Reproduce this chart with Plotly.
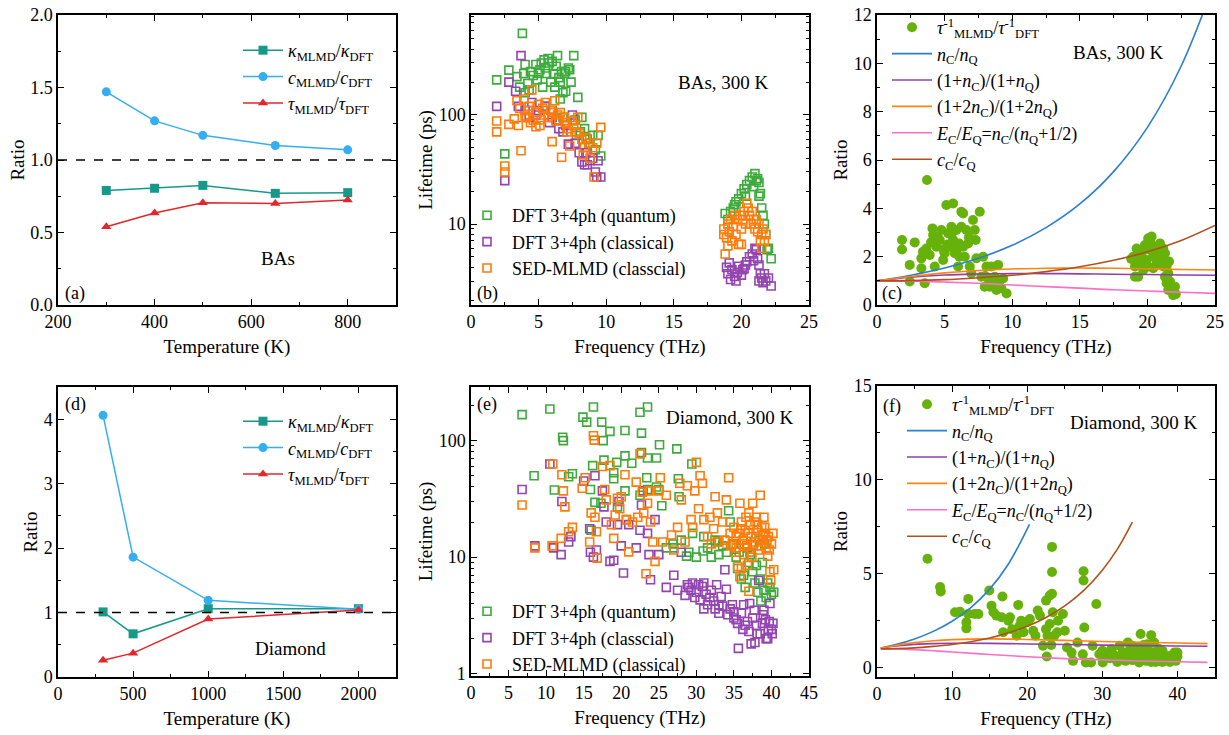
import plotly.graph_objects as go

FONT = "Liberation Serif"
W, H = 1229, 735

# ---------------- data ----------------
# (a) BAs ratios vs temperature
a_T = [300, 400, 500, 650, 800]
a_kappa = [0.79, 0.805, 0.825, 0.77, 0.775]
a_c = [1.47, 1.27, 1.17, 1.10, 1.07]
a_tau = [0.54, 0.635, 0.705, 0.70, 0.725]

# (d) Diamond ratios vs temperature
d_T = [300, 500, 1000, 2000]
d_kappa = [1.01, 0.67, 1.06, 1.06]
d_c = [4.06, 1.86, 1.19, 1.05]
d_tau = [0.26, 0.37, 0.90, 1.04]

# (b) BAs lifetimes (THz, ps)
bq_f = [1.9, 2.5, 2.8, 3.4, 3.6, 3.8, 3.9, 4.0, 4.0, 4.2, 4.3, 4.4, 4.6, 4.8, 4.9, 5.0, 5.1, 5.2, 5.3, 5.4,
        5.5, 5.5, 5.6, 5.7, 5.8, 5.9, 6.0, 6.0, 6.1, 6.2, 6.3, 6.4, 6.5, 6.6, 6.6, 6.7, 6.8, 6.8, 6.9, 7.0,
        7.0, 7.2, 7.3, 7.4, 7.6, 7.7, 7.8, 7.9, 8.1, 8.2, 8.4, 8.6, 8.8, 9.0, 9.2, 9.4, 9.6,
        18.8, 19.0, 19.2, 19.4, 19.5, 19.8, 20.0, 20.2, 20.3, 20.4, 20.6, 20.8, 21.0, 21.1, 21.2, 21.3, 21.3,
        21.4, 21.5, 21.6, 21.7, 21.8, 21.9, 22.0, 22.2, 19.6, 20.9]
bq_t = [210, 44, 258, 225, 180, 560, 240, 290, 160, 195, 170, 250, 230, 290, 210, 240, 260, 300, 180, 320,
        270, 120, 240, 330, 300, 200, 310, 110, 240, 180, 280, 350, 220, 200, 140, 250, 160, 95, 240, 250,
        165, 270, 260, 200, 350, 90, 65, 145, 70, 95, 75, 60, 55, 65, 48, 65, 42,
        12.5, 11, 13, 14, 15, 17, 19, 21, 18, 23, 25, 27, 29, 25, 26, 24, 18,
        19, 14, 12, 10, 8, 5.8, 6, 4.8, 16, 22]
bc_f = [1.9, 2.5, 2.8, 3.3, 3.5, 3.7, 4.0, 4.3, 4.5, 4.8, 5.0, 5.5, 5.8, 6.0, 6.3, 6.5, 6.8, 7.0, 7.2, 7.5,
        7.7, 8.0, 8.2, 8.4, 8.5, 8.6, 8.8, 9.0, 9.2, 9.3, 9.4, 9.6,
        18.9, 19.0, 19.1, 19.2, 19.3, 19.5, 19.6, 19.7, 19.8, 20.0, 20.1, 20.2, 20.3, 20.4, 20.6, 20.8, 20.9,
        21.0, 21.1, 21.2, 21.3, 21.3, 21.4, 21.5, 21.6, 21.7, 21.8, 22.0, 22.2]
bc_t = [120, 25, 200, 165, 120, 350, 110, 95, 130, 100, 110, 120, 85, 95, 90, 75, 70, 80, 54, 100,
        55, 45, 37, 35, 45, 35, 38, 40, 30, 27, 38, 27,
        4.0, 3.5, 4.4, 3.1, 3.8, 3.3, 3.0, 3.6, 4.1, 3.4, 3.8, 3.9, 4.2, 4.5, 5.0, 5.3, 4.6,
        6.0, 5.8, 4.8, 4.2, 3.0, 3.5, 3.2, 2.9, 3.5, 3.0, 3.2, 2.7]
bs_f = [1.9, 1.9, 2.5, 2.5, 2.8, 3.2, 3.4, 3.5, 3.6, 3.7, 3.9, 4.0, 4.1, 4.2, 4.3, 4.4, 4.5, 4.6, 4.8, 4.9,
        5.0, 5.1, 5.2, 5.3, 5.4, 5.5, 5.7, 5.9, 6.0, 6.1, 6.2, 6.3, 6.4, 6.5, 6.6, 6.7, 6.9, 7.0, 7.1, 7.2,
        7.3, 7.5, 7.6, 7.8, 7.9, 8.0, 8.2, 8.3, 8.4, 8.5, 8.7, 8.8, 9.0, 9.1, 9.3, 9.6,
        18.7, 18.7, 18.8, 18.9, 19.0, 19.0, 19.1, 19.2, 19.3, 19.4, 19.5, 19.6, 19.7, 19.8, 19.9, 20.0, 20.0,
        20.1, 20.2, 20.3, 20.4, 20.5, 20.6, 20.7, 20.8, 20.9, 21.0, 21.1, 21.2, 21.3, 21.4, 21.5, 21.5, 21.6,
        21.7, 21.8]
bs_t = [88, 70, 34, 30, 82, 92, 135, 80, 115, 47, 140, 98, 95, 110, 120, 85, 170, 90, 78, 105,
        125, 80, 90, 115, 100, 130, 95, 110, 57, 105, 135, 88, 100, 90, 105, 41, 95, 85, 70, 75,
        52, 88, 80, 70, 95, 68, 60, 43, 50, 62, 55, 40, 50, 27, 55, 77,
        9, 8, 5.3, 7.5, 10, 6.3, 8.5, 11, 7, 9.5, 12, 8, 11, 6.5, 12, 9, 6.5,
        11, 13, 10, 15.5, 14, 12, 10, 13, 11, 9, 11, 8.5, 10, 7, 6, 8, 9,
        7, 8]

# (c) BAs lifetime ratio dots and reference curves
c_f = [1.85, 1.85, 2.42, 2.42, 2.79, 3.28, 3.28, 3.53, 3.65, 3.70, 3.9, 4.1, 4.15, 4.27, 4.39, 4.64, 4.76, 4.89,
       5.0, 5.13, 5.26, 5.38, 5.5, 5.63, 5.63, 5.75, 5.87, 6.0, 6.07, 6.24, 6.37, 6.24, 6.37, 6.49, 6.61, 6.74,
       6.86, 6.98, 7.1, 7.23, 7.3, 7.35, 7.6, 7.72, 7.85, 7.97, 8.1, 8.22, 8.34, 8.46, 8.59, 8.71, 8.83, 8.96,
       9.08, 9.2, 9.33, 9.58, 4.5, 5.2, 5.9, 4.0, 3.4, 6.8, 5.5, 4.9, 6.1, 8.0, 8.6, 9.0,
       18.95, 19.08, 19.2, 19.32, 19.45, 19.57, 19.7, 19.82, 19.94, 20.06, 20.19, 20.31, 20.43, 20.55, 20.68,
       20.8, 20.93, 21.05, 21.17, 21.3, 21.3, 21.42, 21.54, 21.67, 21.9, 22.04, 22.1, 19.08, 19.32, 20.06,
       20.43, 21.17, 21.42, 21.54, 18.8, 19.6, 20.2, 20.7, 21.0, 21.6]
c_r = [2.69, 2.30, 1.66, 0.97, 2.59, 1.93, 1.52, 0.90, 2.34, 5.17, 2.07, 3.17, 2.9, 1.59, 2.41, 2.69, 3.1, 1.86,
       2.14, 4.14, 2.97, 2.41, 3.24, 4.2, 2.69, 2.14, 3.1, 1.59, 2.55, 3.86, 3.79, 3.24, 2.41, 2.0, 3.1, 2.55,
       1.59, 1.31, 3.52, 3.1, 2.69, 1.93, 3.86, 1.17, 2.0, 0.76, 1.59, 1.1, 0.76, 1.59, 0.83, 1.17, 0.62, 1.66,
       1.03, 0.69, 1.1, 0.48, 2.8, 2.5, 2.3, 2.6, 2.2, 2.8, 2.9, 2.3, 2.0, 1.2, 1.0, 0.9,
       2.0, 1.59, 2.34, 1.17, 1.72, 2.14, 1.45, 2.48, 1.86, 2.76, 2.28, 2.83, 2.0, 2.41, 1.72,
       2.14, 2.55, 1.93, 1.59, 2.14, 1.17, 0.9, 0.62, 0.97, 0.41, 0.76, 0.45, 1.17, 1.86, 1.59,
       1.52, 2.34, 1.59, 1.31, 1.9, 2.2, 2.6, 2.3, 2.0, 1.8]
c_cf = [0, 2.5, 5, 7.5, 10, 12.5, 15, 17.5, 20, 22.5, 25]
c_nn = [1.0, 1.23, 1.53, 1.93, 2.47, 3.20, 4.18, 5.52, 7.35, 9.89, 13.4]
c_1n = [1.0, 1.15, 1.24, 1.28, 1.30, 1.30, 1.29, 1.27, 1.26, 1.24, 1.23]
c_2n = [1.0, 1.18, 1.33, 1.43, 1.49, 1.52, 1.53, 1.52, 1.50, 1.47, 1.45]
c_E = [1.0, 0.99, 0.95, 0.90, 0.83, 0.76, 0.70, 0.63, 0.58, 0.53, 0.48]
c_cc = [1.0, 1.01, 1.05, 1.13, 1.23, 1.38, 1.58, 1.85, 2.20, 2.67, 3.29]

# (e) Diamond lifetimes
eq_f = [6.8, 10.5, 8.4, 11.1, 12.2, 12.3, 13.5, 13.0, 14.9, 15.4, 16.3, 16.2, 15.9, 16.5, 17.4, 17.7, 17.6, 18.5,
        19.0, 19.0, 19.4, 20.5, 20.5, 20.5, 21.4, 22.5, 22.7, 23.5, 22.7, 23.5, 23.4, 24.7, 25.1, 24.7, 25.4,
        27.4, 27.6, 27.7, 29.4, 22.5, 23.5, 25.0, 16.0, 17.3, 19.5, 20.7,
        26.0, 26.9, 27.0, 28.0, 28.7, 29.0, 29.5, 30.0, 30.9, 31.0, 31.5, 32.0, 32.5, 32.8, 33.0, 33.5, 34.0,
        34.3, 34.5, 35.0, 35.3, 35.5, 35.7, 36.0, 36.3, 36.5, 36.8, 37.0, 37.2, 37.3, 37.5, 37.8, 38.0, 38.2,
        38.4, 38.5, 38.6, 38.8, 39.0, 39.1, 39.3, 39.5, 39.8, 40.0, 40.3]
eq_t = [167, 187, 50, 37.7, 107, 100, 52, 49, 159, 144, 194, 61, 38, 29.5, 144, 68, 100, 120,
        53, 47, 65, 74, 122, 37, 64, 175, 116, 194, 79, 71, 48, 71, 92, 40, 27.6,
        85, 47, 33, 63, 34, 38, 38, 17, 29, 27, 21,
        12, 13, 12, 14, 10.2, 11, 16, 10, 11.3, 15, 12, 10, 14, 13.5, 10.5, 12.5, 11,
        25, 20, 13, 10, 8, 11, 6.5, 7, 5.5, 12, 9, 10.5, 11, 7.5, 6, 8.5, 5,
        14, 6.5, 4.2, 9, 5.2, 13, 4.5, 6, 5.5, 4.8, 5]
ec_f = [6.8, 8.5, 10.5, 11.0, 12.0, 12.1, 13.0, 13.3, 15.0, 15.8, 15.9, 16.3, 16.5, 16.7, 17.5, 17.7, 18.0, 18.5,
        19.0, 19.5, 19.7, 20.0, 20.3, 21.0, 22.0, 22.5, 22.7, 22.9, 23.5, 23.7, 23.9, 24.5, 25.0, 26.0, 27.0,
        27.5, 28.0, 28.5, 29.0, 29.3, 29.5, 30.0, 30.5, 30.8, 31.0, 31.5, 31.8, 32.0, 32.5, 32.7, 33.0, 33.5,
        33.8, 34.0, 34.2, 34.5, 35.0, 35.0, 35.5, 35.6, 36.0, 36.3, 36.5, 37.0, 37.3, 37.5, 37.8, 38.0, 38.3,
        38.5, 38.8, 39.0, 39.3, 39.6, 39.8, 40.0, 40.2,
        28.8, 29.8, 30.3, 31.3, 32.3, 33.3, 34.8, 35.3, 36.8, 37.7, 38.1, 39.2, 39.5, 40.1, 36.2, 33.0, 31.0,
        37.1, 38.9, 39.7]
ec_t = [38, 12.5, 63, 12, 10.5, 30, 13.5, 15, 45, 17.5, 11, 10, 50, 11.5, 37, 27, 20, 9.2,
        9.4, 19, 30, 12.5, 7.3, 19, 12, 17, 28, 37, 16, 10.5, 6.4, 21, 10.5, 5.5, 7,
        5.2, 11, 4.7, 5.5, 5.2, 6, 5, 4.3, 5.6, 6, 3.9, 4.5, 5.2, 3.6, 5.8, 3.3, 3.8,
        7.8, 5.3, 3.2, 3.6, 3.0, 3.4, 2.7, 1.65, 3.3, 3.9, 2.6, 2.3, 1.8, 3.0, 1.85, 2.6, 6.3,
        2.2, 2.7, 3.5, 2.0, 2.4, 4.0, 2.4, 2.7,
        5.8, 4.5, 5.8, 4.8, 4.2, 4.6, 3.9, 2.9, 2.8, 3.5, 2.2, 2.9, 2.0, 2.2, 2.4, 3.9, 3.6,
        4.0, 3.2, 2.8]
es_f = [6.8, 8.5, 10.8, 10.9, 12.0, 12.1, 12.3, 12.5, 13.0, 13.5, 14.8, 15.2, 15.8, 16.0, 16.3, 16.4, 16.5, 16.7,
        16.8, 17.5, 17.8, 18.0, 18.5, 18.7, 19.0, 19.2, 19.5, 19.8, 20.0, 20.5, 20.7, 21.0, 21.5, 22.0, 22.2,
        22.5, 22.8, 23.0, 23.3, 23.5, 23.7, 23.9, 24.2, 24.5, 25.0, 25.2, 25.5, 26.0, 26.7, 27.0, 27.5, 27.8,
        28.0, 28.5, 28.8, 29.3, 29.5, 29.8, 30.0, 30.3, 30.5, 30.8, 31.0, 31.5, 31.8, 32.0, 32.3, 32.5, 32.8,
        33.0, 33.5, 33.8, 34.0, 34.3, 34.5, 34.8, 35.0, 35.3, 35.3, 35.5, 35.7, 35.8, 35.8, 36.0, 36.0, 36.2,
        36.3, 36.5, 36.7, 36.8, 37.0, 37.0, 37.2, 37.3, 37.4, 37.5, 37.6, 37.8, 37.9, 38.0, 38.2, 38.3, 38.5,
        38.7, 38.8, 39.0, 39.2, 39.3, 39.5, 39.6, 39.8, 39.9, 40.2, 40.3,
        35.2, 36.4, 36.9, 37.7, 38.1, 38.6, 39.1, 39.4, 39.7, 40.0, 36.6, 38.9, 37.1, 35.9, 34.6]
es_t = [28, 12, 12.5, 63, 14.5, 51, 37, 27, 16.5, 18, 39, 48, 13.5, 24, 110, 101, 22, 16.5,
        9.8, 60, 38, 31, 61, 19, 14.5, 23, 32, 26, 33, 51, 21, 11.1, 20, 44, 22,
        77, 36, 24, 7.2, 29, 37, 20, 13.5, 9.2, 37, 48, 13.5, 34, 15.5, 11.5, 18, 43,
        31, 13.5, 41, 21, 18, 37, 65, 26, 50, 43, 21, 15, 22, 13, 17.5, 33, 24,
        13.5, 20, 14, 31, 48, 16, 13, 18, 12, 15, 8.3, 16, 29, 6.8, 20, 8.0, 14,
        10.5, 17, 12.5, 8.5, 24, 5.1, 19, 15, 10, 29, 12.5, 20, 15, 22, 17, 11.5, 34,
        18, 14, 22, 16, 12, 10.2, 15, 7.5, 6.3, 16, 7.8,
        11, 13, 16, 13.5, 19, 12.5, 18, 14, 11.5, 13, 22, 15.5, 11, 17.5, 12.5]

# (f) Diamond lifetime ratio dots and reference curves
f_f = [6.72, 8.4, 8.49, 10.39, 11.05, 12.15, 12.15, 11.9, 11.9, 13.0, 13.5, 14.94, 15.25, 15.5, 15.9, 16.6,
       16.8, 16.7, 17.5, 17.7, 18.0, 18.6, 18.8, 19.0, 19.2, 19.5, 19.9, 20.35, 20.8, 21.1, 21.4, 21.7, 22.1,
       22.5, 22.7, 22.5, 23.0, 23.3, 23.3, 23.3, 23.0, 23.2, 22.6, 23.4, 23.6, 24.0, 24.1, 24.75, 25.0, 25.3,
       25.9, 26.1, 26.7, 27.4, 27.5, 27.5, 27.6, 27.8, 28.5, 28.7, 29.2, 29.6, 30.05,
       30.5, 31.2, 31.8, 32.3, 32.7, 33.1, 33.6, 34.3, 34.7, 35.1, 35.4, 35.8, 36.2, 36.5, 36.7, 36.9, 37.3,
       37.8, 38.2, 38.7, 39.1, 39.6, 39.8, 40.0, 34.9, 34.0, 33.4, 32.5, 37.1, 38.0, 36.0, 34.5, 31.0, 33.0,
       35.0, 36.0, 37.5, 38.5, 39.5, 40.0, 30.0, 31.5, 32.0, 34.0, 36.5, 38.0, 39.0, 37.0, 35.5, 33.8]
f_r = [5.80, 4.29, 4.05, 2.95, 2.98, 3.66, 2.86, 2.41, 2.09, 2.86, 2.86, 4.11, 3.30, 2.95, 2.77, 2.68,
       1.88, 3.79, 2.5, 2.68, 2.05, 1.70, 3.34, 2.23, 2.5, 1.88, 2.41, 2.59, 1.96, 1.70, 3.04, 2.77, 1.16,
       2.05, 1.70, 3.57, 3.84, 6.43, 5.09, 3.93, 2.32, 1.20, 0.59, 2.95, 1.70, 1.88, 2.5, 2.86, 1.96, 1.07,
       0.80, 0.36, 1.34, 0.71, 5.13, 4.64, 2.14, 0.27, 0.27, 1.16, 3.39, 0.71, 0.27,
       0.63, 0.98, 0.45, 1.16, 0.80, 0.36, 0.89, 0.63, 1.07, 1.79, 0.80, 0.36, 0.89, 1.73, 0.63, 1.34, 0.80,
       0.54, 0.71, 0.45, 0.63, 0.80, 0.36, 0.59, 0.27, 1.16, 1.34, 0.45, 0.30, 0.89, 1.25, 0.54, 0.5, 0.7,
       0.6, 0.5, 1.0, 0.5, 0.4, 0.8, 0.9, 0.7, 0.3, 0.4, 0.3, 0.3, 0.3, 0.8, 1.2, 0.5]
f_cf = [0.5, 2.5, 5, 7.5, 10, 15, 20, 25, 30, 35, 40, 44]
f_1n = [1.04, 1.15, 1.24, 1.28, 1.30, 1.29, 1.26, 1.23, 1.20, 1.17, 1.15, 1.14]
f_2n = [1.04, 1.18, 1.33, 1.43, 1.49, 1.53, 1.50, 1.45, 1.39, 1.35, 1.31, 1.28]
f_E = [1.0, 0.99, 0.95, 0.90, 0.83, 0.70, 0.58, 0.48, 0.41, 0.35, 0.31, 0.28]
f_nn_f = [0.5, 2.5, 5, 7.5, 10, 12.5, 15, 17.5, 20.3]
f_nn = [1.04, 1.23, 1.53, 1.93, 2.47, 3.20, 4.18, 5.52, 7.63]
f_cc_f = [0.5, 2.5, 5, 7.5, 10, 12.5, 15, 17.5, 20, 22.5, 25, 27.5, 30, 32, 34]
f_cc = [1.0, 1.01, 1.05, 1.13, 1.23, 1.38, 1.58, 1.85, 2.20, 2.67, 3.29, 4.10, 5.19, 6.31, 7.75]

# ---------------- names ----------------
n_kappa = "<i>κ</i><sub>MLMD</sub>/<i>κ</i><sub>DFT</sub>"
n_c = "<i>c</i><sub>MLMD</sub>/<i>c</i><sub>DFT</sub>"
n_tau = "<i>τ</i><sub>MLMD</sub>/<i>τ</i><sub>DFT</sub>"
n_inv = "<i>τ</i><sup>-1</sup><sub>MLMD</sub>/<i>τ</i><sup>-1</sup><sub>DFT</sub>"
n_nn = "<i>n</i><sub>C</sub>/<i>n</i><sub>Q</sub>"
n_1n = "(1+<i>n</i><sub>C</sub>)/(1+<i>n</i><sub>Q</sub>)"
n_2n = "(1+2<i>n</i><sub>C</sub>)/(1+2<i>n</i><sub>Q</sub>)"
n_E = "<i>E</i><sub>C</sub>/<i>E</i><sub>Q</sub>=<i>n</i><sub>C</sub>/(<i>n</i><sub>Q</sub>+1/2)"
n_cc = "<i>c</i><sub>C</sub>/<i>c</i><sub>Q</sub>"

# ---------------- styles ----------------
TEAL, LBLUE, RED = "#17998a", "#33aef0", "#e3262b"
GQ, PC, OS = "#3cab3c", "#9444b0", "#ff7b0a"
DOT = "#66b20a"
L_BLUE, L_PURP, L_ORNG, L_PINK, L_BRWN = "#2a7fd0", "#9040a8", "#ff8410", "#ff6ec8", "#b2501e"

fig = go.Figure()

def ref(i):
    return ("x" if i == 1 else f"x{i}"), ("y" if i == 1 else f"y{i}"), ("legend" if i == 1 else f"legend{i}")

def add_ratio_panel(i, T, k, c, t):
    xa, ya, lg = ref(i)
    specs = [(k, n_kappa, TEAL, "square"), (c, n_c, LBLUE, "circle"), (t, n_tau, RED, "triangle-up")]
    for j, (vals, nm, col, sym) in enumerate(specs):
        fig.add_trace(go.Scatter(x=T, y=vals, name=nm, mode="lines+markers", xaxis=xa, yaxis=ya,
                                 legend=lg, legendgroup=f"{i}-{j}",
                                 line=dict(color=col, width=1.5),
                                 marker=dict(symbol=sym, size=9, color=col)))

def add_life_panel(i, data, names):
    xa, ya, lg = ref(i)
    for j, ((fx, ty), nm, col) in enumerate(zip(data, names, [GQ, PC, OS])):
        fig.add_trace(go.Scatter(x=fx, y=ty, name=nm, mode="markers", xaxis=xa, yaxis=ya, legend=lg,
                                 marker=dict(symbol="square-open", size=8, color=col, line=dict(width=1.6))))

def add_curve_panel(i, df, dr, curves):
    xa, ya, lg = ref(i)
    fig.add_trace(go.Scatter(x=df, y=dr, name=n_inv, mode="markers", xaxis=xa, yaxis=ya, legend=lg,
                             legendgroup=f"{i}-0", marker=dict(size=10, color=DOT)))
    for j, (cx, cy, nm, col) in enumerate(curves):
        fig.add_trace(go.Scatter(x=cx, y=cy, name=nm, mode="lines", xaxis=xa, yaxis=ya, legend=lg,
                                 legendgroup=f"{i}-{j+1}", line=dict(color=col, width=1.6, shape="spline")))

add_ratio_panel(1, a_T, a_kappa, a_c, a_tau)
add_life_panel(2, [(bq_f, bq_t), (bc_f, bc_t), (bs_f, bs_t)],
               ["DFT 3+4ph (quantum)", "DFT 3+4ph (classical)", "SED-MLMD (classcial)"])
add_curve_panel(3, c_f, c_r, [(c_cf, c_nn, n_nn, L_BLUE), (c_cf, c_1n, n_1n, L_PURP), (c_cf, c_2n, n_2n, L_ORNG),
                              (c_cf, c_E, n_E, L_PINK), (c_cf, c_cc, n_cc, L_BRWN)])
add_ratio_panel(4, d_T, d_kappa, d_c, d_tau)
add_life_panel(5, [(eq_f, eq_t), (ec_f, ec_t), (es_f, es_t)],
               ["DFT 3+4ph (quantum)", "DFT 3+4ph (classcial)", "SED-MLMD (classical)"])
add_curve_panel(6, f_f, f_r, [(f_nn_f, f_nn, n_nn, L_BLUE), (f_cf, f_1n, n_1n, L_PURP), (f_cf, f_2n, n_2n, L_ORNG),
                              (f_cf, f_E, n_E, L_PINK), (f_cc_f, f_cc, n_cc, L_BRWN)])

# ---------------- axes ----------------
boxes = {1: (58, 396, 15, 305), 2: (471, 809, 15, 305), 3: (877, 1215, 15, 305),
         4: (58, 396, 387, 677), 5: (471, 809, 387, 676), 6: (877, 1215, 386, 677)}

TICKFONT = dict(family=FONT, size=18, color="black")
TITLEFONT = dict(family=FONT, size=19, color="black")

def base_axis():
    return dict(showline=True, linecolor="black", linewidth=1.5, mirror="ticks", ticks="inside",
                ticklen=6, tickwidth=1.2, tickcolor="black", showgrid=False, zeroline=False,
                automargin=False, tickfont=TICKFONT)

def minor(**kw):
    d = dict(ticks="inside", ticklen=3.5, tickwidth=1, tickcolor="black", showgrid=False)
    d.update(kw)
    return d

xspec = {1: dict(range=[200, 900], dtick=200, minor=minor(dtick=100)),
         2: dict(range=[0, 25], dtick=5, minor=minor(dtick=2.5)),
         3: dict(range=[0, 25], dtick=5, minor=minor(dtick=2.5)),
         4: dict(range=[0, 2250], dtick=500, minor=minor(dtick=250)),
         5: dict(range=[0, 45], dtick=5, minor=minor(dtick=2.5)),
         6: dict(range=[0, 45], dtick=10, minor=minor(dtick=5))}
xtitles = {1: "Temperature (K)", 2: "Frequency (THz)", 3: "Frequency (THz)",
           4: "Temperature (K)", 5: "Frequency (THz)", 6: "Frequency (THz)"}
logminor2 = [2, 3, 4, 5, 6, 7, 8, 9, 20, 30, 40, 50, 60, 70, 80, 90, 200, 300, 400, 500, 600, 700, 800]
yspec = {1: dict(range=[0, 2], dtick=0.5, tickformat=".1f", minor=minor(dtick=0.25)),
         2: dict(type="log", range=[0.257, 2.917], tickmode="array", tickvals=[10, 100], ticktext=["10", "100"],
                 minor=minor(tickmode="array", tickvals=logminor2)),
         3: dict(range=[0, 12], dtick=2, minor=minor(dtick=1)),
         4: dict(range=[0, 4.5], dtick=1, minor=minor(dtick=0.5)),
         5: dict(type="log", range=[-0.02, 2.46], tickmode="array", tickvals=[1, 10, 100],
                 ticktext=["1", "10", "100"], minor=minor(tickmode="array", tickvals=logminor2[:17])),
         6: dict(range=[-0.5, 15], dtick=5, minor=minor(dtick=2.5))}
ytitles = {1: "Ratio", 2: "Lifetime (ps)", 3: "Ratio", 4: "Ratio", 5: "Lifetime (ps)", 6: "Ratio"}

for i, (l, r, t, b) in boxes.items():
    xa = base_axis()
    xa.update(xspec[i])
    xa.update(domain=[l / W, r / W], anchor=("y" if i == 1 else f"y{i}"),
              title=dict(text=xtitles[i], standoff=8, font=TITLEFONT))
    ya = base_axis()
    ya.update(yspec[i])
    ya.update(domain=[1 - b / H, 1 - t / H], anchor=("x" if i == 1 else f"x{i}"),
              title=dict(text=ytitles[i], standoff=1, font=TITLEFONT))
    fig.layout["xaxis" if i == 1 else f"xaxis{i}"] = xa
    fig.layout["yaxis" if i == 1 else f"yaxis{i}"] = ya

# dashed y=1 lines
for i in (1, 4):
    fig.add_shape(type="line", xref=("x domain" if i == 1 else f"x{i} domain"), yref=("y" if i == 1 else f"y{i}"),
                  x0=0, x1=1, y0=1, y1=1, line=dict(color="black", width=1.4, dash="dash"))

# ---------------- legends ----------------
def leg(x, y, gap=0, iw=40, size=18):
    return dict(x=x / W, y=1 - y / H, xanchor="left", yanchor="top", bgcolor="rgba(0,0,0,0)",
                font=dict(family=FONT, size=size, color="black"), itemwidth=iw, tracegroupgap=gap,
                traceorder="normal")

fig.update_layout(
    legend=leg(238, 32, gap=4),
    legend2=leg(462, 197, iw=40, size=18),
    legend3=leg(887, 9, gap=5),
    legend4=leg(238, 403, gap=4),
    legend5=leg(462, 593, iw=40, size=18),
    legend6=leg(902, 386, gap=3),
)

# ---------------- annotations ----------------
def ann(text, x, y, size=19):
    fig.add_annotation(text=text, x=x / W, y=1 - y / H, xref="paper", yref="paper", showarrow=False,
                       font=dict(family=FONT, size=size, color="black"), xanchor="center", yanchor="middle")

ann("(a)", 75, 293, 18); ann("(b)", 487, 293, 18); ann("(c)", 892, 293, 18)
ann("(d)", 75, 405, 18); ann("(e)", 487, 405, 18); ann("(f)", 892, 406, 18)
ann("BAs", 278, 258); ann("Diamond", 290, 648)
ann("BAs, 300 K", 723, 83); ann("BAs, 300 K", 1118, 52)
ann("Diamond, 300 K", 730, 417); ann("Diamond, 300 K", 1133, 422)

fig.update_layout(width=W, height=H, margin=dict(l=0, r=0, t=0, b=0), paper_bgcolor="white",
                  plot_bgcolor="white", font=dict(family=FONT, size=18, color="black"), showlegend=True)

fig.write_html("out.html", config={"displayModeBar": False},
               post_script="document.body.style.margin='0px';document.body.style.padding='0px';")
